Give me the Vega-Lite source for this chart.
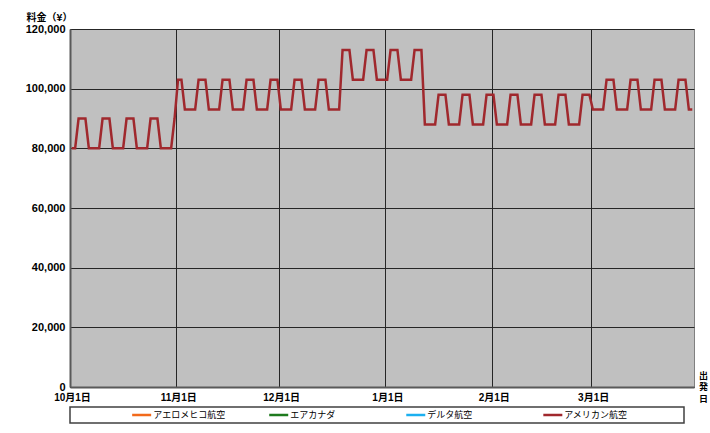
{
  "$schema": "https://vega.github.io/schema/vega-lite/v6.json",
  "background": "white",
  "padding": {"left": 24, "top": 11, "right": 4, "bottom": 9},
  "config": {"font": "Liberation Sans, Noto Sans CJK JP", "axis": {"labelColor": "#000", "titleColor": "#000"}},
  "spacing": 20,
  "bounds": "flush",
  "vconcat": [
    {
      "width": 624,
      "height": 358,
      "view": {"fill": "#C0C0C0", "stroke": "#808080", "strokeWidth": 1},
      "data": {"values": [
        {"date":"2011-10-01","price":80000},{"date":"2011-10-02","price":80000},{"date":"2011-10-03","price":90000},{"date":"2011-10-04","price":90000},{"date":"2011-10-05","price":90000},{"date":"2011-10-06","price":80000},{"date":"2011-10-07","price":80000},{"date":"2011-10-08","price":80000},{"date":"2011-10-09","price":80000},{"date":"2011-10-10","price":90000},{"date":"2011-10-11","price":90000},{"date":"2011-10-12","price":90000},{"date":"2011-10-13","price":80000},{"date":"2011-10-14","price":80000},{"date":"2011-10-15","price":80000},{"date":"2011-10-16","price":80000},{"date":"2011-10-17","price":90000},{"date":"2011-10-18","price":90000},{"date":"2011-10-19","price":90000},{"date":"2011-10-20","price":80000},{"date":"2011-10-21","price":80000},{"date":"2011-10-22","price":80000},{"date":"2011-10-23","price":80000},{"date":"2011-10-24","price":90000},{"date":"2011-10-25","price":90000},{"date":"2011-10-26","price":90000},{"date":"2011-10-27","price":80000},{"date":"2011-10-28","price":80000},{"date":"2011-10-29","price":80000},{"date":"2011-10-30","price":80000},{"date":"2011-10-31","price":90000},
        {"date":"2011-11-01","price":103000},{"date":"2011-11-02","price":103000},{"date":"2011-11-03","price":93000},{"date":"2011-11-04","price":93000},{"date":"2011-11-05","price":93000},{"date":"2011-11-06","price":93000},{"date":"2011-11-07","price":103000},{"date":"2011-11-08","price":103000},{"date":"2011-11-09","price":103000},{"date":"2011-11-10","price":93000},{"date":"2011-11-11","price":93000},{"date":"2011-11-12","price":93000},{"date":"2011-11-13","price":93000},{"date":"2011-11-14","price":103000},{"date":"2011-11-15","price":103000},{"date":"2011-11-16","price":103000},{"date":"2011-11-17","price":93000},{"date":"2011-11-18","price":93000},{"date":"2011-11-19","price":93000},{"date":"2011-11-20","price":93000},{"date":"2011-11-21","price":103000},{"date":"2011-11-22","price":103000},{"date":"2011-11-23","price":103000},{"date":"2011-11-24","price":93000},{"date":"2011-11-25","price":93000},{"date":"2011-11-26","price":93000},{"date":"2011-11-27","price":93000},{"date":"2011-11-28","price":103000},{"date":"2011-11-29","price":103000},{"date":"2011-11-30","price":103000},
        {"date":"2011-12-01","price":93000},{"date":"2011-12-02","price":93000},{"date":"2011-12-03","price":93000},{"date":"2011-12-04","price":93000},{"date":"2011-12-05","price":103000},{"date":"2011-12-06","price":103000},{"date":"2011-12-07","price":103000},{"date":"2011-12-08","price":93000},{"date":"2011-12-09","price":93000},{"date":"2011-12-10","price":93000},{"date":"2011-12-11","price":93000},{"date":"2011-12-12","price":103000},{"date":"2011-12-13","price":103000},{"date":"2011-12-14","price":103000},{"date":"2011-12-15","price":93000},{"date":"2011-12-16","price":93000},{"date":"2011-12-17","price":93000},{"date":"2011-12-18","price":93000},{"date":"2011-12-19","price":113000},{"date":"2011-12-20","price":113000},{"date":"2011-12-21","price":113000},{"date":"2011-12-22","price":103000},{"date":"2011-12-23","price":103000},{"date":"2011-12-24","price":103000},{"date":"2011-12-25","price":103000},{"date":"2011-12-26","price":113000},{"date":"2011-12-27","price":113000},{"date":"2011-12-28","price":113000},{"date":"2011-12-29","price":103000},{"date":"2011-12-30","price":103000},{"date":"2011-12-31","price":103000},
        {"date":"2012-01-01","price":103000},{"date":"2012-01-02","price":113000},{"date":"2012-01-03","price":113000},{"date":"2012-01-04","price":113000},{"date":"2012-01-05","price":103000},{"date":"2012-01-06","price":103000},{"date":"2012-01-07","price":103000},{"date":"2012-01-08","price":103000},{"date":"2012-01-09","price":113000},{"date":"2012-01-10","price":113000},{"date":"2012-01-11","price":113000},{"date":"2012-01-12","price":88000},{"date":"2012-01-13","price":88000},{"date":"2012-01-14","price":88000},{"date":"2012-01-15","price":88000},{"date":"2012-01-16","price":98000},{"date":"2012-01-17","price":98000},{"date":"2012-01-18","price":98000},{"date":"2012-01-19","price":88000},{"date":"2012-01-20","price":88000},{"date":"2012-01-21","price":88000},{"date":"2012-01-22","price":88000},{"date":"2012-01-23","price":98000},{"date":"2012-01-24","price":98000},{"date":"2012-01-25","price":98000},{"date":"2012-01-26","price":88000},{"date":"2012-01-27","price":88000},{"date":"2012-01-28","price":88000},{"date":"2012-01-29","price":88000},{"date":"2012-01-30","price":98000},{"date":"2012-01-31","price":98000},
        {"date":"2012-02-01","price":98000},{"date":"2012-02-02","price":88000},{"date":"2012-02-03","price":88000},{"date":"2012-02-04","price":88000},{"date":"2012-02-05","price":88000},{"date":"2012-02-06","price":98000},{"date":"2012-02-07","price":98000},{"date":"2012-02-08","price":98000},{"date":"2012-02-09","price":88000},{"date":"2012-02-10","price":88000},{"date":"2012-02-11","price":88000},{"date":"2012-02-12","price":88000},{"date":"2012-02-13","price":98000},{"date":"2012-02-14","price":98000},{"date":"2012-02-15","price":98000},{"date":"2012-02-16","price":88000},{"date":"2012-02-17","price":88000},{"date":"2012-02-18","price":88000},{"date":"2012-02-19","price":88000},{"date":"2012-02-20","price":98000},{"date":"2012-02-21","price":98000},{"date":"2012-02-22","price":98000},{"date":"2012-02-23","price":88000},{"date":"2012-02-24","price":88000},{"date":"2012-02-25","price":88000},{"date":"2012-02-26","price":88000},{"date":"2012-02-27","price":98000},{"date":"2012-02-28","price":98000},{"date":"2012-02-29","price":98000},
        {"date":"2012-03-01","price":93000},{"date":"2012-03-02","price":93000},{"date":"2012-03-03","price":93000},{"date":"2012-03-04","price":93000},{"date":"2012-03-05","price":103000},{"date":"2012-03-06","price":103000},{"date":"2012-03-07","price":103000},{"date":"2012-03-08","price":93000},{"date":"2012-03-09","price":93000},{"date":"2012-03-10","price":93000},{"date":"2012-03-11","price":93000},{"date":"2012-03-12","price":103000},{"date":"2012-03-13","price":103000},{"date":"2012-03-14","price":103000},{"date":"2012-03-15","price":93000},{"date":"2012-03-16","price":93000},{"date":"2012-03-17","price":93000},{"date":"2012-03-18","price":93000},{"date":"2012-03-19","price":103000},{"date":"2012-03-20","price":103000},{"date":"2012-03-21","price":103000},{"date":"2012-03-22","price":93000},{"date":"2012-03-23","price":93000},{"date":"2012-03-24","price":93000},{"date":"2012-03-25","price":93000},{"date":"2012-03-26","price":103000},{"date":"2012-03-27","price":103000},{"date":"2012-03-28","price":103000},{"date":"2012-03-29","price":93000},{"date":"2012-03-30","price":93000}
      ]},
      "mark": {"type": "line", "strokeWidth": 2.5},
      "encoding": {
        "x": {
          "field": "date", "type": "temporal", "timeUnit": "utcyearmonthdate", "bandPosition": 0.5,
          "scale": {"type": "utc", "domain": [{"year": 2011, "month": 10, "date": 1, "utc": true}, {"year": 2012, "month": 3, "date": 31, "utc": true}]},
          "axis": {
            "values": [
              {"year": 2011, "month": 10, "date": 1, "utc": true},
              {"year": 2011, "month": 11, "date": 1, "utc": true},
              {"year": 2011, "month": 12, "date": 1, "utc": true},
              {"year": 2012, "month": 1, "date": 1, "utc": true},
              {"year": 2012, "month": 2, "date": 1, "utc": true},
              {"year": 2012, "month": 3, "date": 1, "utc": true}
            ],
            "labelExpr": "utcFormat(datum.value, '%-m月%-d日')",
            "grid": true, "gridColor": "#262626", "gridWidth": 1,
            "ticks": false, "tickSize": 0,
            "labelPadding": 5, "labelFontSize": 10, "labelFontWeight": "bold",
            "labelFlush": false, "labelOverlap": false, "labelOffset": 2,
            "domainColor": "#595959", "domainWidth": 2,
            "title": ["出", "発", "日"], "titleAngle": 0, "titleX": 633, "titleY": -16,
            "titleAlign": "center", "titleBaseline": "top", "titleFontSize": 9,
            "titleFontWeight": "bold", "titleLineHeight": 11.5, "titleFont": "Noto Sans CJK JP"
          }
        },
        "y": {
          "field": "price", "type": "quantitative",
          "scale": {"domain": [0, 120000], "nice": false, "zero": true},
          "axis": {
            "values": [0, 20000, 40000, 60000, 80000, 100000, 120000],
            "format": ",d",
            "grid": true, "gridColor": "#262626", "gridWidth": 1,
            "ticks": false, "tickSize": 0,
            "labelPadding": 5, "labelFontSize": 11, "labelFontWeight": "bold",
            "domainColor": "#595959", "domainWidth": 2,
            "title": "料金（¥）", "titleAngle": 0, "titleX": -44, "titleY": -12,
            "titleAlign": "left", "titleBaseline": "middle", "titleFontSize": 10,
            "titleFontWeight": "bold", "titleFont": "Noto Sans CJK JP"
          }
        },
        "color": {
          "datum": "アメリカン航空", "type": "nominal",
          "scale": {"domain": ["アエロメヒコ航空", "エアカナダ", "デルタ航空", "アメリカン航空"], "range": ["#F26A1B", "#1E7A1E", "#1CB0F0", "#A0282D"]},
          "legend": null
        }
      }
    },
    {
      "width": 614,
      "height": 16,
      "view": {"fill": "white", "stroke": "#404040", "strokeWidth": 1.5},
      "data": {"values": [{"airline": "アエロメヒコ航空"}, {"airline": "エアカナダ"}, {"airline": "デルタ航空"}, {"airline": "アメリカン航空"}]},
      "encoding": {
        "x": {
          "field": "airline", "type": "nominal",
          "scale": {"type": "point", "domain": ["アエロメヒコ航空", "エアカナダ", "デルタ航空", "アメリカン航空"], "padding": 0.74, "align": 0.41},
          "axis": null
        },
        "color": {
          "field": "airline", "type": "nominal",
          "scale": {"domain": ["アエロメヒコ航空", "エアカナダ", "デルタ航空", "アメリカン航空"], "range": ["#F26A1B", "#1E7A1E", "#1CB0F0", "#A0282D"]},
          "legend": null
        }
      },
      "layer": [
        {"mark": {"type": "point", "shape": "stroke", "size": 361, "strokeWidth": 2.5, "filled": false, "opacity": 1, "xOffset": -11.5}},
        {"mark": {"type": "text", "align": "left", "baseline": "middle", "fontSize": 9, "font": "Noto Sans CJK JP"}, "encoding": {"text": {"field": "airline"}, "color": {"value": "#000"}}}
      ]
    }
  ]
}
